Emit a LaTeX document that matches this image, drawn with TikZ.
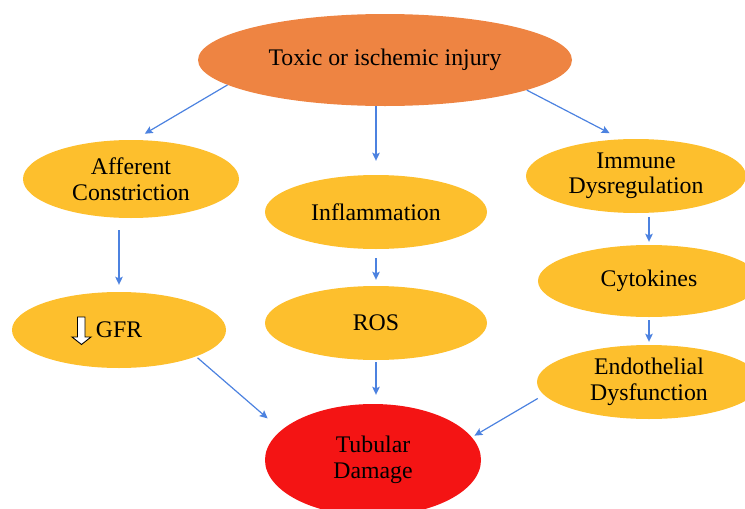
\documentclass[tikz,border=0pt]{standalone}
\usepackage{fontspec}
\setmainfont{Liberation Serif}
\usetikzlibrary{shapes.geometric,arrows.meta}
\definecolor{toporange}{HTML}{EE8442}
\definecolor{gold}{HTML}{FDBF2D}
\definecolor{tubred}{HTML}{F41414}
\definecolor{arrowblue}{HTML}{4C82E0}
\begin{document}
\begin{tikzpicture}[x=1pt,y=-1pt,
  bubble/.style={ellipse, draw=none, fill=gold, inner sep=0pt, align=center,
    font=\fontsize{23.8}{25.5}\selectfont},
  flow/.style={draw=arrowblue, line width=1.2pt,
    -{Stealth[length=8pt,width=7.5pt,inset=1.5pt]}}]
\useasboundingbox (0,0) rectangle (745,509);
\clip (0,0) rectangle (745,509);
\node[bubble, fill=toporange, minimum width=374pt, minimum height=92pt] (top) at (385,60) {Toxic or ischemic injury};
\node[bubble, minimum width=216pt, minimum height=78pt] (aff) at (131,179) {Afferent\\Constriction};
\node[bubble, minimum width=222pt, minimum height=74pt] (infl) at (376,212) {Inflammation};
\node[bubble, minimum width=220pt, minimum height=74pt] (imm) at (636,176) {Immune\\Dysregulation};
\node[bubble, minimum width=214pt, minimum height=76pt] (gfr) at (119,330) {GFR};
\node[bubble, minimum width=222pt, minimum height=74pt] (ros) at (376,323) {ROS};
\node[bubble, minimum width=222pt, minimum height=72pt] (cyt) at (649,281) {Cytokines};
\node[bubble, minimum width=224pt, minimum height=74pt] (endo) at (649,382) {Endothelial\\Dysfunction};
\node[bubble, fill=tubred, minimum width=216pt, minimum height=112pt] (tub) at (373,460) {Tubular\\Damage};
% hollow down arrow before GFR
\draw[fill=white, line width=0.9pt, line join=miter]
  (77.5,317) -- (85,317) -- (85,337) -- (91,337) -- (81.5,344.5) -- (72,337) -- (77.5,337) -- cycle;
% connectors
\draw[flow, shorten >=12pt] (top.189) -- (aff.85);
\draw[flow, shorten >=14pt] (top.south -| infl.north) -- (infl.north);
\draw[flow, shorten >=13pt] (top.348) -- (imm.112);
\draw[flow, shorten <=12pt, shorten >=7pt] (aff.south -| gfr.north) -- (gfr.north);
\draw[flow, shorten <=9pt, shorten >=6pt] (infl.south) -- (ros.north);
\draw[flow, shorten <=4pt, shorten >=3pt] (imm.south -| cyt.north) -- (cyt.north);
\draw[flow, shorten <=3pt, shorten >=3pt] (cyt.south) -- (endo.north);
\draw[flow, shorten <=2pt, shorten >=9pt] (ros.south) -- (ros.south |- tub.north);
\draw[flow, shorten <=2pt, shorten >=18pt] (gfr.341) -- (tub.162);
\draw[flow, shorten <=7pt, shorten >=3pt] (endo.187) -- (tub.13);
\end{tikzpicture}
\end{document}
